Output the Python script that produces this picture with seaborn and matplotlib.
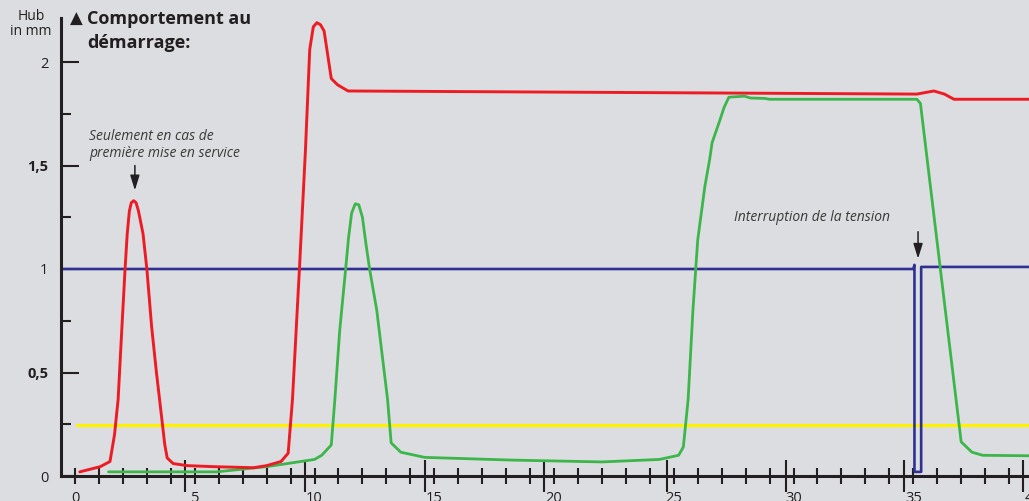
import matplotlib
matplotlib.use("Agg")
import matplotlib.pyplot as plt
import seaborn as sns

# values (x in ms-ish units, Hub in mm)
red_x = [0.2, 1.05, 1.46, 1.65, 1.8, 1.95, 2.09, 2.18, 2.27, 2.35, 2.45, 2.55, 2.65, 2.84,
         3.0, 3.2, 3.4, 3.6, 3.75, 3.85, 4.1, 4.7, 5.8, 7.45, 8.0, 8.6, 8.9, 9.08, 9.37,
         9.62, 9.8, 9.95, 10.1, 10.25, 10.4, 10.7, 10.96, 11.4, 35.15, 35.86, 36.3, 36.7, 40.5]
red_y = [0.02, 0.045, 0.07, 0.2, 0.37, 0.7, 1.0, 1.17, 1.28, 1.32, 1.33, 1.32, 1.28, 1.17,
         1.0, 0.72, 0.5, 0.3, 0.15, 0.087, 0.06, 0.05, 0.045, 0.04, 0.05, 0.07, 0.11, 0.37, 1.0,
         1.57, 2.06, 2.17, 2.19, 2.18, 2.15, 1.92, 1.89, 1.86, 1.845, 1.86, 1.845, 1.82, 1.82]

green_x = [1.4, 5.9, 8.0, 10.0, 10.3, 10.7, 10.85, 11.05, 11.3, 11.42, 11.55, 11.7, 11.85,
           12.0, 12.15, 12.3, 12.6, 13.05, 13.2, 13.6, 14.6, 18.2, 22.0, 24.4, 25.2, 25.4, 25.6,
           25.8, 26.0, 26.3, 26.5, 26.6, 26.9, 27.1, 27.3, 27.95, 28.2, 28.8, 29.0, 35.15, 35.3,
           37.0, 37.45, 37.9, 40.5]
green_y = [0.02, 0.02, 0.045, 0.08, 0.1, 0.15, 0.37, 0.7, 1.0, 1.15, 1.27, 1.315, 1.31,
           1.25, 1.12, 1.0, 0.8, 0.37, 0.16, 0.115, 0.09, 0.077, 0.068, 0.08, 0.1, 0.14, 0.37,
           0.8, 1.14, 1.4, 1.53, 1.61, 1.71, 1.78, 1.83, 1.835, 1.826, 1.824, 1.82, 1.82, 1.8,
           0.165, 0.115, 0.1, 0.097]

blue_x = [-0.6, 35.0, 35.05, 35.05, 35.33, 35.33, 40.5]
blue_y = [1.0, 1.0, 1.02, 0.02, 0.02, 1.01, 1.01]

yellow_x = [0.1, 40.5]
yellow_y = [0.246, 0.246]

x_ticks = list(range(0, 41))
x_labels = [str(t) if t % 5 == 0 else "" for t in x_ticks]
x_long_ticks = [4.6, 9.6, 14.6, 19.6, 24.7, 29.7, 34.6, 39.6]
y_ticks = [0, 0.5, 1, 1.5, 2]
y_labels = ["0", "0,5", "1", "1,5", "2"]
y_minor = [0.25, 0.75, 1.25, 1.75]

bg = "#dcdde0"
ink = "#231f20"

sns.set_theme(style="ticks", rc={"figure.facecolor": bg, "axes.facecolor": bg})
plt.rcParams["font.family"] = ["Open Sans", "DejaVu Sans"]

fig = plt.figure(figsize=(10.29, 5.01), dpi=100)
# x: 0 at px 75, 23.95 px/unit ; y: 0 at px 476, 207 px/unit
xmin, xmax = -0.585, 40.6
w_px = (xmax - xmin) * 23.95
ax = fig.add_axes([61 / 1029, 25 / 501, w_px / 1029, 458 / 501])

sns.lineplot(x=yellow_x, y=yellow_y, color="#fff200", lw=2.3, estimator=None, sort=False, ax=ax)
sns.lineplot(x=blue_x, y=blue_y, color="#2e3192", lw=1.9, estimator=None, sort=False, ax=ax)
sns.lineplot(x=green_x, y=green_y, color="#3cb64a", lw=2.0, estimator=None, sort=False, ax=ax)
sns.lineplot(x=red_x, y=red_y, color="#ed1c24", lw=2.1, estimator=None, sort=False, ax=ax)

ax.set_xlim(xmin, xmax)
ax.set_ylim(0, 458 / 207)
sns.despine(ax=ax)
for s in ("left", "bottom"):
    ax.spines[s].set_linewidth(2.2)
    ax.spines[s].set_color(ink)

ax.set_xticks(x_ticks, x_labels)
ax.set_xticks(x_long_ticks, minor=True)
ax.tick_params(axis="x", which="major", direction="inout", length=12.2, width=1.5,
               color=ink, labelsize=10.5, labelcolor=ink, pad=4.5)
ax.tick_params(axis="x", which="minor", direction="inout", length=23, width=1.5, color=ink)

ax.set_yticks(y_ticks, y_labels)
for t in ax.get_yticklabels():
    if "," in t.get_text():
        t.set_fontweight("bold")
ax.set_yticks(y_minor, minor=True)
ax.tick_params(axis="y", which="major", direction="in", length=13, width=1.5,
               color=ink, labelsize=10.5, labelcolor=ink, pad=9)
ax.tick_params(axis="y", which="minor", direction="in", length=7.2, width=1.5, color=ink)
ax.set_xlabel("")
ax.set_ylabel("")

arrow = dict(arrowstyle="-|>,head_length=0.9,head_width=0.28", color=ink, lw=1.1,
             mutation_scale=10, shrinkA=0, shrinkB=0)
ax.annotate("", xy=(2.5, 1.38), xytext=(2.5, 1.50), arrowprops=arrow)
ax.annotate("", xy=(35.2, 1.05), xytext=(35.2, 1.18), arrowprops=arrow)

ax.text(0.59, 1.60, "Seulement en cas de\npremière mise en service", fontsize=10,
        style="italic", color="#3a3a3a", ha="left", va="center", linespacing=1.2)
ax.text(27.5, 1.25, "Interruption de la tension", fontsize=10, style="italic",
        color="#3a3a3a", ha="left", va="center")

fig.text(76 / 1029, 1 - 19 / 501, "\u25b2", fontsize=12, color=ink, ha="center", va="center",
         family=["DejaVu Sans"])
fig.text(87 / 1029, 1 - 31 / 501, "Comportement au\ndémarrage:", fontsize=13,
         fontweight="bold", color=ink, ha="left", va="center", linespacing=1.4)
fig.text(31 / 1029, 1 - 24 / 501, "Hub\nin mm", fontsize=10, color=ink, ha="center",
         va="center", multialignment="center", linespacing=1.0)

fig.savefig("out.png", dpi=100, facecolor=bg)
